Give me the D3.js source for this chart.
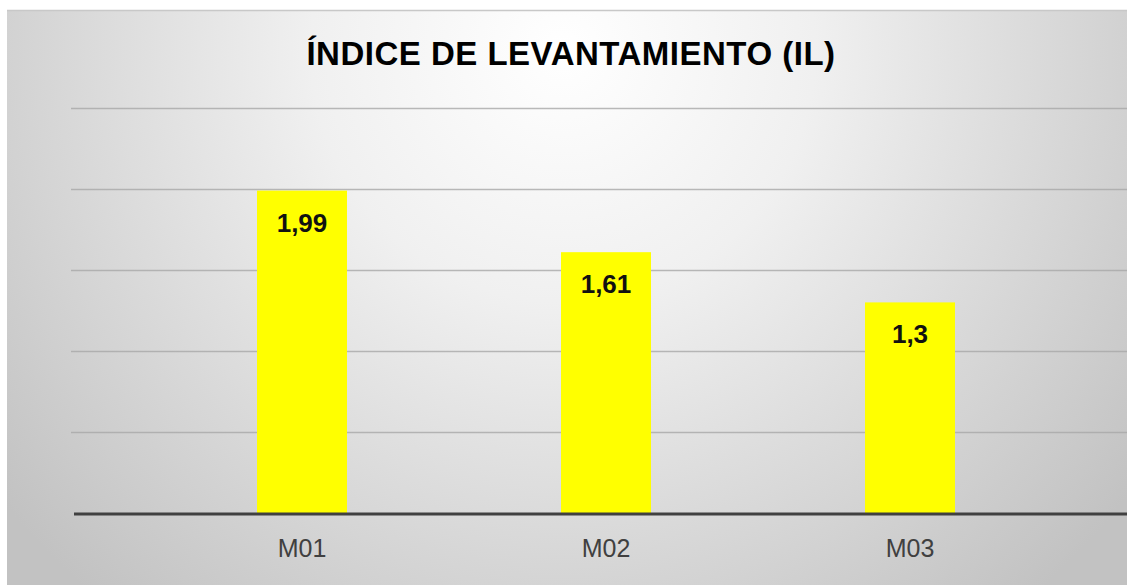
<!DOCTYPE html>
<html><head><meta charset="utf-8">
<script src="https://cdn.jsdelivr.net/npm/d3@7"></script>
<style>html,body{margin:0;padding:0;background:#fff;overflow:hidden}</style>
</head><body>
<svg id="c" width="1127" height="585"></svg>
<script>
const categories = ["M01", "M02", "M03"];
const values = [1.99, 1.61, 1.3];
const valueLabels = ["1,99", "1,61", "1,3"];
const yTicks = [0, 0.5, 1, 1.5, 2, 2.5];
const title = "ÍNDICE DE LEVANTAMIENTO (IL)";

const svg = d3.select("#c");
const defs = svg.append("defs");
const g = defs.append("radialGradient").attr("id","bg")
  .attr("gradientUnits","userSpaceOnUse").attr("cx",563).attr("cy",50).attr("r",720);
g.append("stop").attr("offset",0).attr("stop-color","#ffffff");
g.append("stop").attr("offset",0.35).attr("stop-color","#f0f0f0");
g.append("stop").attr("offset",1).attr("stop-color","#c2c2c2");

svg.append("rect").attr("x",7).attr("y",10).attr("width",1127).attr("height",580).attr("fill","url(#bg)");
svg.append("line").attr("x1",7).attr("x2",1127).attr("y1",10.5).attr("y2",10.5).attr("stroke","#c8c8c8").attr("stroke-width",1.5);

const y = d3.scaleLinear().domain([0,2.5]).range([513,108]);
const x = d3.scaleBand().domain(categories).range([150,1062]).paddingInner(0.704).paddingOuter(0.352);

// gridlines
svg.append("g").selectAll("line").data(yTicks.filter(d=>d>0)).join("line")
  .attr("x1",71).attr("x2",1127)
  .attr("y1",d=>Math.round(y(d))+0.5).attr("y2",d=>Math.round(y(d))+0.5)
  .attr("stroke","#a8a8a8").attr("stroke-width",1.5).attr("stroke-opacity",0.8);

// bars
svg.append("g").selectAll("rect").data(values).join("rect")
  .attr("x",(d,i)=>x(categories[i])).attr("width",x.bandwidth())
  .attr("y",d=>y(d)).attr("height",d=>y(0)-y(d))
  .attr("fill","#ffff00");

// baseline axis
const xAxis = d3.axisBottom(x).tickSize(0).tickPadding(26);
const ax = svg.append("g").attr("transform",`translate(0,${y(0)})`).call(xAxis);
ax.select(".domain").remove();
ax.selectAll("text").attr("font-family","Arial, 'Liberation Sans', sans-serif").attr("font-size",25).attr("fill","#404040");
svg.append("line").attr("x1",74).attr("x2",1127).attr("y1",y(0)+1).attr("y2",y(0)+1).attr("stroke","#404040").attr("stroke-width",3);

// value labels
svg.append("g").selectAll("text").data(values).join("text")
  .attr("x",(d,i)=>x(categories[i])+x.bandwidth()/2)
  .attr("y",d=>y(d)+41)
  .attr("text-anchor","middle")
  .attr("font-family","Arial, 'Liberation Sans', sans-serif").attr("font-weight","bold").attr("font-size",26)
  .attr("fill","#111")
  .text((d,i)=>valueLabels[i]);

// title
svg.append("text").attr("x",571).attr("y",65).attr("text-anchor","middle")
  .attr("font-family","Arial, 'Liberation Sans', sans-serif")
  .attr("font-weight","bold").attr("font-size",33).attr("letter-spacing",0.5).attr("fill","#000")
  .text(title);
</script>
</body></html>
